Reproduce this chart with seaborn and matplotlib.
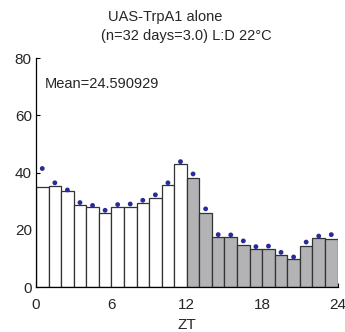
import numpy as np
import pandas as pd
import seaborn as sns
import matplotlib.pyplot as plt

# ZT hour bins (start of each hour) and mean activity per bin
zt_hours = list(range(24))
bar_values = [35.0, 35.4, 33.5, 28.5, 27.8, 26.0, 28.1, 28.1, 29.5, 31.1, 35.7, 42.9,
              38.0, 25.9, 17.6, 17.3, 14.7, 13.4, 13.4, 11.2, 9.8, 14.2, 17.1, 16.9]
dot_values = [41.4, 36.4, 33.9, 29.5, 28.5, 26.8, 28.8, 29.0, 30.3, 32.2, 36.4, 43.8,
              39.5, 27.3, 18.3, 18.2, 16.1, 14.1, 14.3, 12.1, 10.5, 15.7, 17.8, 18.3]
phase = ["light"] * 12 + ["dark"] * 12
x_ticks = [0, 6, 12, 18, 24]
y_ticks = [0, 20, 40, 60, 80]
title_line1 = "UAS-TrpA1 alone"
title_line2 = "(n=32 days=3.0) L:D 22\u00b0C"
mean_text = "Mean=24.590929"

df = pd.DataFrame({"zt": zt_hours, "activity": bar_values, "dot": dot_values, "phase": phase})
df["zt_mid"] = df["zt"] + 0.5

sns.set_style("ticks")
plt.rcParams["font.family"] = ["Liberation Sans", "DejaVu Sans"]
plt.rcParams["xtick.direction"] = "in"
plt.rcParams["ytick.direction"] = "in"

fig = plt.figure(figsize=(3.45, 3.32), dpi=100)
ax = fig.add_axes([0.1043, 0.1355, 0.8742, 0.6898])

sns.barplot(
    data=df, x="zt_mid", y="activity", hue="phase",
    palette={"light": "white", "dark": "#b3b3b5"}, hue_order=["light", "dark"],
    native_scale=True, width=1, dodge=False, saturation=1,
    edgecolor="#333333", linewidth=0.9, legend=False, ax=ax,
)
sns.scatterplot(data=df, x="zt_mid", y="dot", color="#2a2a98", s=12,
                edgecolor="none", ax=ax, zorder=5)

ax.set_xlim(0, 24)
ax.set_ylim(0, 80)
ax.set_xticks(x_ticks)
ax.set_xticklabels([str(t) for t in x_ticks])
ax.set_yticks(y_ticks)
ax.tick_params(axis="both", labelsize=11, length=3, width=0.8, color="black", pad=3)
ax.tick_params(axis="x", pad=8)
ax.set_xlabel("ZT", fontsize=11, labelpad=4)
ax.set_ylabel("")
sns.despine(ax=ax)
for s in ["left", "bottom"]:
    ax.spines[s].set_linewidth(0.9)
    ax.spines[s].set_color("black")

ax.text(0.03, 0.885, mean_text, transform=ax.transAxes, fontsize=10.5,
        ha="left", va="center")
fig.text(0.478, 0.948, title_line1, fontsize=10.5, ha="center", va="center")
fig.text(0.54, 0.891, title_line2, fontsize=10.5, ha="center", va="center")

fig.savefig("out.png", dpi=100)
